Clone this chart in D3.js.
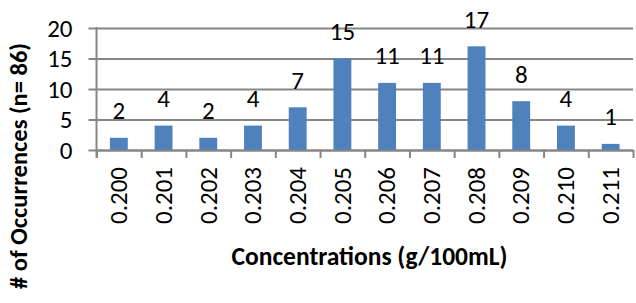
<!DOCTYPE html>
<html>
<head>
<meta charset="utf-8">
<script src="https://cdn.jsdelivr.net/npm/d3@7"></script>
<style>
  html, body { margin: 0; padding: 0; background: #fff; }
  svg { display: block; }
</style>
</head>
<body>
<svg id="chart" width="636" height="303"></svg>
<script>
// data
const categories = ["0.200", "0.201", "0.202", "0.203", "0.204", "0.205",
                    "0.206", "0.207", "0.208", "0.209", "0.210", "0.211"];
const counts = [2, 4, 2, 4, 7, 15, 11, 11, 17, 8, 4, 1];
const yTicks = [0, 5, 10, 15, 20];
const xTitle = "Concentrations (g/100mL)";
const yTitle = "# of Occurrences (n= 86)";

const font = "Calibri, Carlito, 'Open Sans', sans-serif";
const barColor = "#4f81bd";
const lineColor = "#868686";
const numSize = 25;
const titleSize = 25.5;

const svg = d3.select("#chart").attr("font-family", font);

const plot = { left: 96.5, right: 633, top: 28, bottom: 150 };

const x = d3.scaleBand()
    .domain(categories)
    .range([plot.left, plot.right])
    .paddingInner(0.6)
    .paddingOuter(0.3);

// category edges, for the tick marks between bars
const xEdge = d3.scaleLinear()
    .domain([0, categories.length])
    .range([plot.left, plot.right]);

const y = d3.scaleLinear()
    .domain([0, 20])
    .range([plot.bottom, plot.top]);

// gridlines + y tick labels
const yAxis = svg.append("g")
    .attr("transform", `translate(${plot.left - 8},0)`)
    .call(d3.axisLeft(y)
        .tickValues(yTicks)
        .tickSize(-(plot.right - plot.left + 8))
        .tickPadding(16));
yAxis.select(".domain").remove();
yAxis.selectAll(".tick line")
    .attr("stroke", lineColor)
    .attr("stroke-width", 2);
yAxis.selectAll(".tick text")
    .attr("font-family", font)
    .attr("font-size", numSize)
    .attr("fill", "#000")
    .attr("dy", "0.33em");

// vertical axis line
svg.append("line")
    .attr("x1", plot.left).attr("x2", plot.left)
    .attr("y1", y(20) - 1).attr("y2", plot.bottom + 8)
    .attr("stroke", lineColor)
    .attr("stroke-width", 2);

// bars
svg.append("g")
    .selectAll("rect")
    .data(counts)
    .join("rect")
    .attr("x", (d, i) => x(categories[i]))
    .attr("y", d => y(d))
    .attr("width", x.bandwidth())
    .attr("height", d => y(0) - y(d))
    .attr("fill", barColor);

// x axis line + ticks between categories
const xAxis = svg.append("g")
    .attr("transform", `translate(0,${plot.bottom})`)
    .call(d3.axisBottom(xEdge)
        .ticks(categories.length)
        .tickFormat("")
        .tickSizeInner(8)
        .tickSizeOuter(0));
xAxis.select(".domain")
    .attr("stroke", lineColor)
    .attr("stroke-width", 2);
xAxis.selectAll(".tick line")
    .attr("stroke", lineColor)
    .attr("stroke-width", 2);

// rotated category labels
svg.append("g")
    .selectAll("text")
    .data(categories)
    .join("text")
    .attr("transform", d => `translate(${x(d) + x.bandwidth() / 2},167) rotate(-90)`)
    .attr("text-anchor", "end")
    .attr("dy", "0.33em")
    .attr("font-size", numSize)
    .attr("fill", "#000")
    .text(d => d);

// value labels
svg.append("g")
    .selectAll("text")
    .data(counts)
    .join("text")
    .attr("x", (d, i) => x(categories[i]) + x.bandwidth() / 2)
    .attr("y", d => y(d) - 18.5)
    .attr("text-anchor", "middle")
    .attr("font-size", numSize)
    .attr("fill", "#000")
    .text(d => d);

// axis titles
svg.append("text")
    .attr("x", 369.5)
    .attr("y", 265)
    .attr("text-anchor", "middle")
    .attr("font-size", titleSize)
    .attr("font-weight", "bold")
    .attr("fill", "#000")
    .text(xTitle);

svg.append("text")
    .attr("transform", "translate(27,166) rotate(-90)")
    .attr("text-anchor", "middle")
    .attr("font-size", 24.5)
    .attr("font-weight", "bold")
    .attr("fill", "#000")
    .text(yTitle);
</script>
</body>
</html>
